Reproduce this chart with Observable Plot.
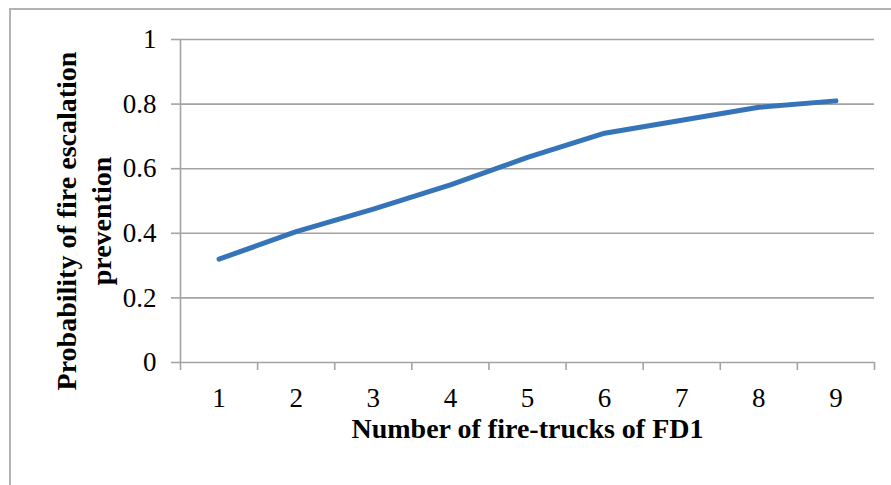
<!DOCTYPE html>
<html>
<head>
<meta charset="utf-8">
<script src="https://cdn.jsdelivr.net/npm/d3@7"></script>
<script src="https://cdn.jsdelivr.net/npm/@observablehq/plot@0.6"></script>
<style>
  html, body { margin: 0; padding: 0; background: #fff; }
  #wrap { position: relative; width: 891px; height: 485px; overflow: hidden; background: #fff; }
  #border { position: absolute; left: 9px; top: 8px; width: 950px; height: 550px; border: 2px solid #b3b3b3; box-sizing: border-box; }
  #chart { position: absolute; left: 0; top: 0; }
</style>
</head>
<body>
<div id="wrap"><div id="border"></div><div id="chart"></div></div>
<script>
const categories = [1, 2, 3, 4, 5, 6, 7, 8, 9];
const probability = [0.32, 0.405, 0.475, 0.55, 0.635, 0.71, 0.75, 0.79, 0.81];
const yTicks = [0, 0.2, 0.4, 0.6, 0.8, 1];
const xBoundaries = [0.5, 1.5, 2.5, 3.5, 4.5, 5.5, 6.5, 7.5, 8.5, 9.5];
const xTitle = "Number of fire-trucks of FD1";
const yTitle = "Probability of fire escalation\nprevention";

const data = categories.map((c, i) => ({x: c, y: probability[i]}));
const gridColor = "#a3a3a3";
const font = "'Liberation Serif', 'Times New Roman', serif";

const chart = Plot.plot({
  width: 891,
  height: 485,
  marginLeft: 180,
  marginRight: 17,
  marginTop: 39,
  marginBottom: 123,
  style: {fontFamily: font, background: "transparent", overflow: "visible"},
  x: {domain: [0.5, 9.5]},
  y: {domain: [0, 1]},
  marks: [
    Plot.gridY(yTicks, {stroke: gridColor, strokeOpacity: 1, strokeWidth: 1.6}),
    Plot.ruleX([0.5], {stroke: gridColor, strokeWidth: 1.6}),
    Plot.axisY(yTicks, {tickSize: 9, tickPadding: 15, fontSize: 27, stroke: gridColor, strokeWidth: 1.6, fill: "black", tickFormat: d => String(d), label: null}),
    Plot.axisX(xBoundaries, {tickSize: 8, tickFormat: () => "", stroke: gridColor, strokeWidth: 1.6, label: null}),
    Plot.axisX(categories, {tickSize: 0, tickPadding: 25, fontSize: 27, fill: "black", tickFormat: d => String(d), label: null}),
    Plot.line(data, {x: "x", y: "y", stroke: "#3674ba", strokeWidth: 5, strokeLinecap: "round", strokeLinejoin: "round"}),
    Plot.text([xTitle], {frameAnchor: "bottom", dy: 75, fontSize: 28, fontWeight: "bold", fill: "black"}),
    Plot.text([yTitle], {frameAnchor: "left", textAnchor: "middle", rotate: -90, dx: -98, dy: 20, fontSize: 28, fontWeight: "bold", lineHeight: 1.23, fill: "black"})
  ]
});
document.getElementById("chart").appendChild(chart);
</script>
</body>
</html>
